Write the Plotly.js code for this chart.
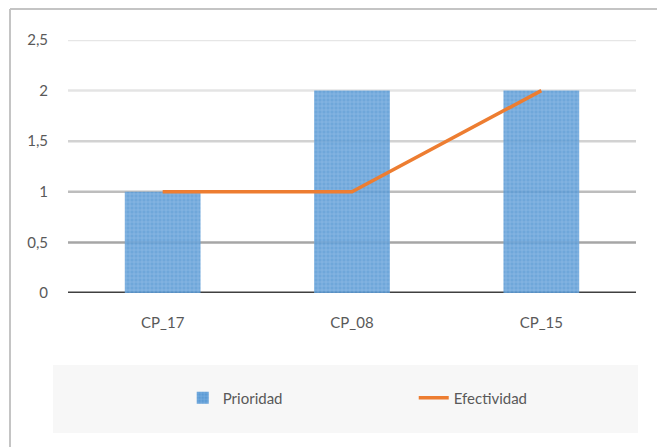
<!DOCTYPE html>
<html>
<head>
<meta charset="utf-8">
<script src="https://cdn.plot.ly/plotly-3.0.1.min.js"></script>
<style>html,body{margin:0;padding:0;background:#fff;}#chart{width:657px;height:447px;}</style>
</head>
<body>
<div id="chart"></div>
<script>
var categories = ["CP_17", "CP_08", "CP_15"];
var prioridad = [1, 2, 2];
var efectividad = [1, 1, 2];
var yTickVals = [0, 0.5, 1, 1.5, 2, 2.5];
var yTickText = ["0", "0,5", "1", "1,5", "2", "2,5"];
var gridColors = ["#404040", "#a6a6a6", "#bdbdbd", "#d2d2d2", "#e4e4e4", "#e6e6e6"];

var shapes = [];
// gridlines with graded colours
yTickVals.forEach(function (v, i) {
  shapes.push({type: "line", xref: "paper", yref: "y", x0: 0, x1: 1, y0: v, y1: v,
    line: {color: gridColors[i], width: i === 0 ? 3 : 2.5}, layer: "below"});
});
// legend background box
shapes.push({type: "rect", xref: "paper", yref: "paper", x0: -0.0264, x1: 1.0035, y0: -0.5534, y1: -0.2846,
  fillcolor: "#f7f7f7", line: {width: 0}, layer: "below"});
// outer frame (top and left edges)
shapes.push({type: "line", xref: "paper", yref: "paper", x0: -0.1021, x1: 1.05, y0: 1.1225, y1: 1.1225,
  line: {color: "#c4c4c4", width: 2}});
shapes.push({type: "line", xref: "paper", yref: "paper", x0: -0.1021, x1: -0.1021, y0: 1.1225, y1: -0.65,
  line: {color: "#c4c4c4", width: 2}});

var traces = [
  {type: "bar", name: "Prioridad", x: categories, y: prioridad,
   marker: {color: "#5b9bd5", opacity: 0.88,
            pattern: {shape: "+", fillmode: "overlay", fgcolor: "#a8ccee", size: 4, solidity: 0.3},
            line: {width: 0}},
   hoverinfo: "skip"},
  {type: "scatter", mode: "lines", name: "Efectividad", x: categories, y: efectividad,
   line: {color: "#ed7d31", width: 3.5}, hoverinfo: "skip"}
];

var layout = {
  width: 657, height: 447,
  margin: {l: 68, r: 21, t: 40, b: 154},
  paper_bgcolor: "#ffffff", plot_bgcolor: "rgba(0,0,0,0)",
  separators: ",.",
  font: {family: "Lato, 'Open Sans', sans-serif", size: 15, color: "#595959"},
  bargap: 0.6,
  showlegend: true,
  legend: {orientation: "h", x: 0.202, xanchor: "left", y: -0.415, yanchor: "middle",
           bgcolor: "rgba(0,0,0,0)", entrywidth: 186, entrywidthmode: "pixels",
           font: {size: 15, color: "#595959"}},
  xaxis: {showgrid: false, zeroline: false, showline: false, ticks: "",
          ticklabelstandoff: 19, tickfont: {size: 15, color: "#595959"}},
  yaxis: {range: [0, 2.5], tickvals: yTickVals, ticktext: yTickText, showgrid: false,
          zeroline: false, showline: false, ticks: "", ticklabelstandoff: 19,
          tickfont: {size: 15, color: "#595959"}},
  shapes: shapes
};

Plotly.newPlot("chart", traces, layout, {displayModeBar: false, staticPlot: true});
</script>
</body>
</html>
